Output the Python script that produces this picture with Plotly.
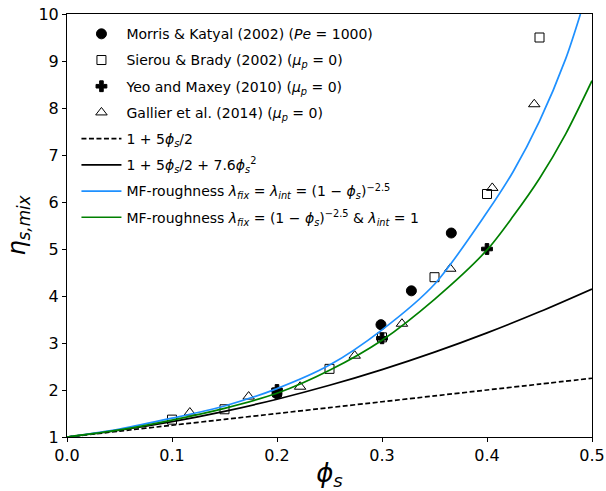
import plotly.graph_objects as go

# ---- data ----
mk_phi = [0.20, 0.299, 0.328, 0.366]
mk_eta = [1.92, 3.39, 4.11, 5.34]

sb_phi = [0.10, 0.15, 0.20, 0.25, 0.30, 0.35, 0.40, 0.45]
sb_eta = [1.37, 1.59, 1.95, 2.45, 3.12, 4.40, 6.17, 9.50]

ym_phi = [0.20, 0.30, 0.40]
ym_eta = [2.00, 3.10, 5.00]

ga_phi = [0.117, 0.173, 0.222, 0.274, 0.319, 0.365, 0.405, 0.445]
ga_eta = [1.52, 1.86, 2.07, 2.73, 3.41, 4.58, 6.30, 8.08]

line_phi = [0.0, 0.05, 0.10, 0.15, 0.20, 0.25, 0.30, 0.35, 0.40, 0.45, 0.50]
einstein = [1.0, 1.125, 1.25, 1.375, 1.5, 1.625, 1.75, 1.875, 2.0, 2.125, 2.25]
batchelor = [1.0, 1.144, 1.326, 1.546, 1.804, 2.100, 2.434, 2.806, 3.216, 3.664, 4.15]

blue_phi = [0.0, 0.05, 0.10, 0.15, 0.20, 0.25, 0.30, 0.35, 0.40, 0.425, 0.45, 0.475, 0.489]
blue_eta = [1.0, 1.17, 1.40, 1.66, 2.03, 2.53, 3.28, 4.25, 5.78, 6.65, 7.72, 9.05, 10.0]

green_phi = [0.0, 0.05, 0.10, 0.15, 0.20, 0.25, 0.30, 0.35, 0.40, 0.425, 0.45, 0.475, 0.50]
green_eta = [1.0, 1.15, 1.36, 1.61, 1.93, 2.42, 3.06, 3.93, 4.98, 5.70, 6.50, 7.45, 8.58]

x_ticks = [0.0, 0.1, 0.2, 0.3, 0.4, 0.5]
y_ticks = [1, 2, 3, 4, 5, 6, 7, 8, 9, 10]

FONT = "DejaVu Sans"

fig = go.Figure()

def mtrace(x, y, name, symbol, size, g):
    fig.add_trace(go.Scatter(
        x=x, y=y, mode="markers", name=name, legendgroup=g,
        marker=dict(symbol=symbol, size=size, color="black",
                    line=dict(color="black", width=1)),
    ))

def ltrace(x, y, name, color, dash, g):
    fig.add_trace(go.Scatter(
        x=x, y=y, mode="lines", name=name, legendgroup=g,
        line=dict(color=color, width=1.7, dash=dash, shape="spline", smoothing=0.8),
    ))

mtrace(mk_phi, mk_eta, "Morris &amp; Katyal (2002) (<i>Pe</i> = 1000)", "circle", 10, "a")
mtrace(sb_phi, sb_eta, "Sierou &amp; Brady (2002) (<i>μ<sub>p</sub></i> = 0)", "square-open", 9, "b")
mtrace(ym_phi, ym_eta, "Yeo and Maxey (2010) (<i>μ<sub>p</sub></i> = 0)", "cross", 9, "c")
mtrace(ga_phi, ga_eta, "Gallier et al. (2014) (<i>μ<sub>p</sub></i> = 0)", "triangle-up-open", 10, "d")
ltrace(line_phi, einstein, "1 + 5<i>ϕ<sub>s</sub></i>/2", "black", "5px,2.5px", "e")
ltrace(line_phi, batchelor, "1 + 5<i>ϕ<sub>s</sub></i>/2 + 7.6<i>ϕ<sub>s</sub></i><sup>2</sup>", "black", "solid", "f")
ltrace(blue_phi, blue_eta,
       "MF-roughness <i>λ<sub>fix</sub></i> = <i>λ<sub>int</sub></i> = (1 − <i>ϕ<sub>s</sub></i>)<sup>−2.5</sup>",
       "#1E90FF", "solid", "g")
ltrace(green_phi, green_eta,
       "MF-roughness <i>λ<sub>fix</sub></i> = (1 − <i>ϕ<sub>s</sub></i>)<sup>−2.5</sup> &amp; <i>λ<sub>int</sub></i> = 1",
       "#008000", "solid", "h")

fig.update_layout(
    width=606, height=491,
    margin=dict(l=67, r=14, t=14, b=54),
    paper_bgcolor="white", plot_bgcolor="white",
    font=dict(family=FONT, color="black", size=14),
    showlegend=True,
    legend=dict(
        x=0.018, y=0.99, xanchor="left", yanchor="top",
        bgcolor="rgba(0,0,0,0)", borderwidth=0,
        font=dict(size=14, family=FONT),
        tracegroupgap=5, itemwidth=40, traceorder="grouped",
    ),
    xaxis=dict(
        range=[0, 0.5], tickvals=x_ticks, ticktext=[f"{v:.1f}" for v in x_ticks],
        showgrid=False, zeroline=False, automargin=False,
        showline=True, linecolor="black", linewidth=1, mirror=True,
        ticks="outside", ticklen=4, tickcolor="black",
        tickfont=dict(size=16, family=FONT),
        title=dict(text="<i>ϕ<sub>s</sub></i>", font=dict(size=26, family=FONT), standoff=4),
    ),
    yaxis=dict(
        range=[1, 10], tickvals=y_ticks,
        showgrid=False, zeroline=False, automargin=False,
        showline=True, linecolor="black", linewidth=1, mirror=True,
        ticks="outside", ticklen=4, tickcolor="black",
        tickfont=dict(size=16, family=FONT),
        title=dict(text="<i>η<sub>s,mix</sub></i>", font=dict(size=24, family=FONT), standoff=6),
    ),
)

fig.write_html("out.html")
